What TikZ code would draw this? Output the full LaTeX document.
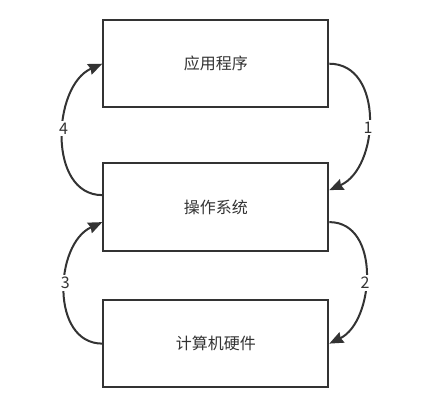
\documentclass[tikz,border=0pt]{standalone}
\usepackage{fontspec}
\setmainfont{Noto Sans CJK SC}
\usepackage{tikz}
\usetikzlibrary{arrows.meta,calc}
\definecolor{inkgray}{HTML}{333333}

\begin{document}
\begin{tikzpicture}[x=0.75pt,y=0.75pt,yscale=-1,xscale=1,
    layer/.style={draw=inkgray,line width=1.5pt,minimum width=168.75pt,minimum height=65.5pt,inner sep=0pt,text=inkgray,font=\fontsize{12}{14}\selectfont},
    flow/.style={draw=inkgray,line width=1.5pt,-{Stealth[length=10.5pt,width=8.5pt,inset=1pt]}},
    num/.style={fill=white,inner sep=1.5pt,text=inkgray,font=\fontsize{12}{14}\selectfont}]
    \useasboundingbox (0,0) rectangle (427,419);

    %Shape: Rectangle
    \node[layer] (app) at (215.8,63.7) {应用程序};
    %Shape: Rectangle
    \node[layer] (os) at (215.8,207.1) {操作系统};
    %Shape: Rectangle
    \node[layer] (hw) at (215.8,343.6) {计算机硬件};

    % Ports on the middle box
    \coordinate (osR1) at ($(os.east)+(0,-17)$);
    \coordinate (osR2) at ($(os.east)+(0,15)$);
    \coordinate (osL4) at ($(os.west)+(0,-12)$);
    \coordinate (osL3) at ($(os.west)+(0,15)$);

    %Curve Lines
    \draw[flow] (app.east) .. controls +(55,0) and +(50,-22) .. node[num,pos=0.55] {1} (osR1);
    %Curve Lines
    \draw[flow] (osR2) .. controls +(52,0) and +(45,-22) .. node[num,pos=0.55] {2} (hw.east);
    %Curve Lines
    \draw[flow] (hw.west) .. controls +(-52,0) and +(-48,22) .. node[num,pos=0.55] {3} (osL3);
    %Curve Lines
    \draw[flow] (osL4) .. controls +(-55,0) and +(-50,22) .. node[num,pos=0.55] {4} (app.west);

\end{tikzpicture}
\end{document}
